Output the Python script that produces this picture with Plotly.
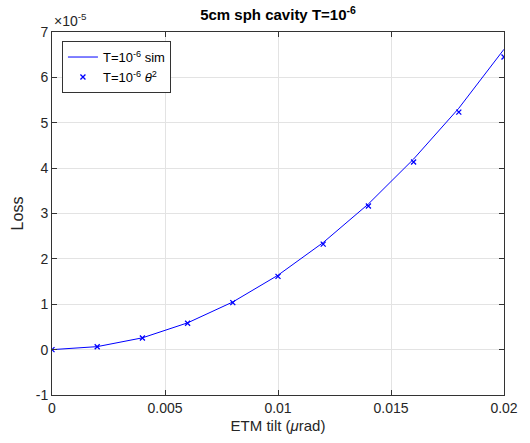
import plotly.graph_objects as go

# ETM tilt (urad)
tilt = [0, 0.002, 0.004, 0.006, 0.008, 0.010, 0.012, 0.014, 0.016, 0.018, 0.020]
# Loss, in units of 1e-5
loss_sim = [0, 0.066, 0.26, 0.59, 1.05, 1.64, 2.36, 3.21, 4.20, 5.32, 6.62]
loss_theta2 = [0, 0.065, 0.258, 0.58, 1.035, 1.615, 2.325, 3.165, 4.135, 5.235, 6.45]

xticks = [0, 0.005, 0.01, 0.015, 0.02]
xticklabels = ["0", "0.005", "0.01", "0.015", "0.02"]
yticks = [-1, 0, 1, 2, 3, 4, 5, 6, 7]
yticklabels = ["-1", "0", "1", "2", "3", "4", "5", "6", "7"]

FONT = "Liberation Sans, Arial, Helvetica, sans-serif"
AX = "#333333"

fig = go.Figure()
fig.add_trace(go.Scatter(
    x=tilt, y=loss_sim, mode="lines",
    line=dict(color="#0000ff", width=1),
    name="T=10<sup>-6</sup> sim"))
fig.add_trace(go.Scatter(
    x=tilt, y=loss_theta2, mode="markers",
    marker=dict(symbol="x-thin-open", size=5, color="#0000ff",
                line=dict(color="#0000ff", width=1.3)),
    name="T=10<sup>-6</sup> <i>θ</i><sup>2</sup>"))

axis_common = dict(
    showline=True, linecolor=AX, linewidth=1, mirror="ticks",
    ticks="inside", ticklen=5, tickcolor=AX, tickwidth=1,
    showgrid=True, gridcolor="#e3e3e3", gridwidth=1,
    zeroline=False, tickfont=dict(family=FONT, size=14, color="#262626"),
)

fig.update_layout(
    width=530, height=443,
    margin=dict(l=52, r=22, t=32, b=47),
    paper_bgcolor="white", plot_bgcolor="white",
    font=dict(family=FONT, color="#262626"),
    title=dict(text="<b>5cm sph cavity T=10<sup>-6</sup></b>",
               x=0.5, xanchor="center", xref="paper",
               y=1 - 15 / 443, yanchor="middle",
               font=dict(family=FONT, size=15, color="black")),
    xaxis=dict(range=[0, 0.02], tickvals=xticks, ticktext=xticklabels,
               title=dict(text="ETM tilt (<i>μ</i>rad)", standoff=5,
                          font=dict(family=FONT, size=15, color="#262626")),
               **axis_common),
    yaxis=dict(range=[-1, 7], tickvals=yticks, ticktext=yticklabels,
               title=dict(text="Loss", standoff=8,
                          font=dict(family=FONT, size=16, color="#262626")),
               **axis_common),
    legend=dict(x=0.022, y=0.975, xanchor="left", yanchor="top",
                bgcolor="white", bordercolor=AX, borderwidth=1,
                font=dict(family=FONT, size=13, color="black"),
                tracegroupgap=0, itemwidth=30),
    showlegend=True,
)

fig.add_annotation(text="×10<sup>-5</sup>", xref="paper", yref="paper",
                   x=0, y=1, xanchor="left", yanchor="bottom", yshift=1,
                   showarrow=False,
                   font=dict(family=FONT, size=14, color="#262626"))

fig.write_html("out.html")
